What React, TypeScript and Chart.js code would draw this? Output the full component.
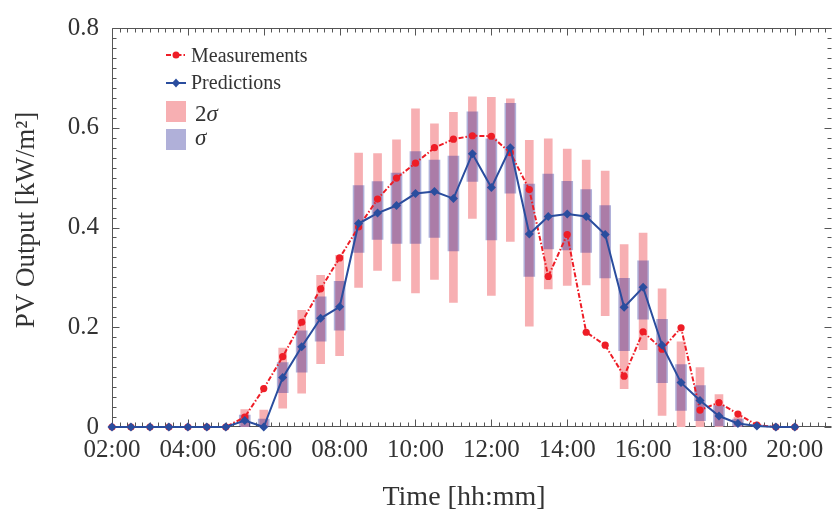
import { useEffect, useRef } from 'react';
import { Chart, registerables } from 'chart.js';

Chart.register(...registerables);

const times = [2, 2.5, 3, 3.5, 4, 4.5, 5, 5.5, 6, 6.5, 7, 7.5, 8, 8.5, 9, 9.5, 10, 10.5, 11, 11.5, 12, 12.5, 13, 13.5, 14, 14.5, 15, 15.5, 16, 16.5, 17, 17.5, 18, 18.5, 19, 19.5, 20];

const measurements = [0, 0, 0, 0, 0, 0, 0, 0.020, 0.077, 0.141, 0.210, 0.277, 0.339, 0.401, 0.457, 0.499, 0.529, 0.560, 0.577, 0.584, 0.583, 0.550, 0.476, 0.302, 0.386, 0.190, 0.164, 0.102, 0.191, 0.156, 0.199, 0.034, 0.049, 0.026, 0.004, 0, 0];

const predictions = [0, 0, 0, 0, 0, 0, 0, 0.013, 0, 0.099, 0.161, 0.218, 0.241, 0.408, 0.429, 0.444, 0.468, 0.472, 0.458, 0.548, 0.480, 0.560, 0.387, 0.422, 0.427, 0.422, 0.386, 0.240, 0.280, 0.164, 0.089, 0.053, 0.022, 0.007, 0.002, 0, 0];

const sigmaLow = [0, 0, 0, 0, 0, 0, 0, 0, 0, 0.069, 0.110, 0.172, 0.194, 0.350, 0.376, 0.368, 0.368, 0.380, 0.353, 0.4925, 0.375, 0.469, 0.302, 0.357, 0.355, 0.350, 0.299, 0.153, 0.216, 0.089, 0.033, 0.0125, 0.002, 0, 0, 0, 0];
const sigmaHigh = [0, 0, 0, 0, 0, 0, 0, 0.024, 0.016, 0.129, 0.193, 0.261, 0.292, 0.484, 0.492, 0.509, 0.552, 0.535, 0.543, 0.632, 0.578, 0.649, 0.487, 0.507, 0.4925, 0.476, 0.444, 0.298, 0.333, 0.216, 0.125, 0.083, 0.043, 0.016, 0.004, 0, 0];

const twoSigmaLow = [0, 0, 0, 0, 0, 0, 0, 0, 0, 0.038, 0.068, 0.127, 0.143, 0.280, 0.314, 0.293, 0.269, 0.296, 0.250, 0.418, 0.264, 0.372, 0.202, 0.277, 0.284, 0.285, 0.223, 0.077, 0.155, 0.023, 0, 0, 0, 0, 0, 0, 0];
const twoSigmaHigh = [0, 0, 0, 0, 0, 0, 0, 0.035, 0.034, 0.158, 0.234, 0.304, 0.344, 0.549, 0.548, 0.576, 0.638, 0.608, 0.631, 0.662, 0.661, 0.658, 0.575, 0.578, 0.557, 0.535, 0.513, 0.366, 0.389, 0.277, 0.171, 0.119, 0.065, 0.020, 0.006, 0, 0];

const xTickValues = [2, 4, 6, 8, 10, 12, 14, 16, 18, 20];
const xTickLabels = ['02:00', '04:00', '06:00', '08:00', '10:00', '12:00', '14:00', '16:00', '18:00', '20:00'];
const yTickLabels = ['0', '0.2', '0.4', '0.6', '0.8'];

const FONT = "'Liberation Serif', 'Times New Roman', serif";
const RED = '#ee1d26';
const BLUE = '#2a4d9e';
const PINK = '#f7afb2';
const LAV = 'rgba(30, 30, 145, 0.35)';
const AXIS = '#555555';
const TEXT = '#333333';

const X_MIN = 2;
const X_MAX = 20.94;

const decorPlugin = {
  id: 'decor',
  beforeDatasetsDraw(chart: any) {
    const { ctx, chartArea: a, scales } = chart;
    const x = scales.x;
    const y = scales.y;
    ctx.save();
    ctx.strokeStyle = AXIS;
    ctx.lineWidth = 1;
    const L = Math.round(a.left) + 0.5;
    const R = Math.round(a.right) - 0.5;
    const T = Math.round(a.top) + 0.5;
    const B = Math.round(a.bottom) - 0.5;
    ctx.beginPath();
    ctx.moveTo(L, T);
    ctx.lineTo(R + 1, T);
    ctx.moveTo(L, T);
    ctx.lineTo(L, B);
    ctx.lineTo(R + 1, B);
    ctx.stroke();
    ctx.beginPath();
    for (let i = 0; ; i++) {
      const v = X_MIN + i * 0.2;
      if (v > X_MAX + 1e-6) break;
      const len = i % 10 === 0 ? 7 : 4;
      const px = Math.round(x.getPixelForValue(v)) + 0.5;
      ctx.moveTo(px, B);
      ctx.lineTo(px, B - len);
      ctx.moveTo(px, T);
      ctx.lineTo(px, T + len);
    }
    for (let i = 0; i <= 40; i++) {
      const v = i * 0.02;
      const len = i % 10 === 0 ? 7 : 4;
      const py = Math.round(y.getPixelForValue(v)) + 0.5;
      ctx.moveTo(L, py);
      ctx.lineTo(L + len, py);
      ctx.moveTo(R + 1, py);
      ctx.lineTo(R + 1 - len, py);
    }
    ctx.stroke();
    ctx.restore();
  },
  afterDraw(chart: any) {
    const { ctx } = chart;
    ctx.save();
    ctx.fillStyle = TEXT;
    ctx.font = `28px ${FONT}`;
    ctx.textAlign = 'center';
    ctx.textBaseline = 'alphabetic';
    ctx.fillText('Time [hh:mm]', 464, 505);
    ctx.save();
    ctx.translate(33.5, 220);
    ctx.rotate(-Math.PI / 2);
    ctx.font = `27px ${FONT}`;
    ctx.fillText('PV Output [kW/m²]', 0, 0);
    ctx.restore();

    const lx0 = 166;
    const lx1 = 186;
    const mx = 176;
    ctx.strokeStyle = RED;
    ctx.lineWidth = 2;
    ctx.setLineDash([5, 2, 1.5, 2]);
    ctx.beginPath();
    ctx.moveTo(lx0, 55);
    ctx.lineTo(lx1, 55);
    ctx.stroke();
    ctx.setLineDash([]);
    ctx.fillStyle = RED;
    ctx.beginPath();
    ctx.arc(mx, 55, 3.5, 0, Math.PI * 2);
    ctx.fill();
    ctx.strokeStyle = BLUE;
    ctx.beginPath();
    ctx.moveTo(lx0, 83);
    ctx.lineTo(lx1, 83);
    ctx.stroke();
    ctx.fillStyle = BLUE;
    ctx.beginPath();
    ctx.moveTo(mx, 83 - 4.5);
    ctx.lineTo(mx + 4, 83);
    ctx.lineTo(mx, 83 + 4.5);
    ctx.lineTo(mx - 4, 83);
    ctx.closePath();
    ctx.fill();
    ctx.fillStyle = PINK;
    ctx.fillRect(lx0, 101, 20, 21);
    ctx.fillStyle = LAV;
    ctx.fillRect(lx0, 129, 20, 21);

    ctx.fillStyle = TEXT;
    ctx.textAlign = 'left';
    ctx.textBaseline = 'alphabetic';
    ctx.font = `20px ${FONT}`;
    ctx.fillText('Measurements', 191, 62);
    ctx.fillText('Predictions', 191, 88.5);
    ctx.font = `23px ${FONT}`;
    ctx.fillText('2', 195, 120.5);
    const w2 = ctx.measureText('2').width;
    ctx.font = `italic 23px ${FONT}`;
    ctx.fillText('σ', 195 + w2, 120.5);
    ctx.fillText('σ', 195, 145);
    ctx.restore();
  },
};

export default function App() {
  const ref = useRef<HTMLCanvasElement | null>(null);

  useEffect(() => {
    if (!ref.current) return;
    document.body.style.margin = '0';
    document.body.style.overflow = 'hidden';
    const pts = (arr: number[]) => times.map((t, i) => ({ x: t, y: arr[i] }));
    const band = (lo: number[], hi: number[]) => times.map((t, i) => ({ x: t, y: [lo[i], hi[i]] }));

    const chart = new Chart(ref.current, {
      type: 'line',
      data: {
        datasets: [
          {
            type: 'line',
            label: 'Predictions',
            data: pts(predictions),
            borderColor: BLUE,
            backgroundColor: BLUE,
            borderWidth: 2,
            pointStyle: 'rectRot',
            pointRadius: 4.5,
            pointBorderWidth: 0,
            pointBackgroundColor: BLUE,
            fill: false,
            tension: 0,
            clip: false,
            order: 0,
          },
          {
            type: 'line',
            label: 'Measurements',
            data: pts(measurements),
            borderColor: RED,
            backgroundColor: RED,
            borderWidth: 2,
            borderDash: [5, 2, 1.5, 2],
            pointStyle: 'circle',
            pointRadius: 3.6,
            pointBorderWidth: 0,
            pointBackgroundColor: RED,
            fill: false,
            tension: 0,
            clip: false,
            order: 1,
          },
          {
            type: 'bar',
            label: 'σ',
            data: band(sigmaLow, sigmaHigh) as any,
            backgroundColor: LAV,
            borderWidth: 0,
            barThickness: 11,
            grouped: false,
            order: 2,
          },
          {
            type: 'bar',
            label: '2σ',
            data: band(twoSigmaLow, twoSigmaHigh) as any,
            backgroundColor: PINK,
            borderWidth: 0,
            barThickness: 8,
            grouped: false,
            order: 3,
          },
        ] as any,
      },
      options: {
        animation: false,
        responsive: false,
        devicePixelRatio: 1,
        layout: { padding: { left: 0, right: 0, top: 22, bottom: 0 } },
        plugins: {
          legend: { display: false },
          tooltip: { enabled: false },
        },
        scales: {
          x: {
            type: 'linear',
            min: X_MIN,
            max: X_MAX,
            offset: false,
            grid: { display: false, drawTicks: false },
            border: { display: false },
            ticks: {
              maxRotation: 0,
              autoSkip: false,
              padding: 8,
              color: TEXT,
              font: { family: FONT, size: 25 },
              callback: (_v: any, i: number) => xTickLabels[i] ?? '',
            },
            afterBuildTicks: (s: any) => {
              s.ticks = xTickValues.map((v) => ({ value: v }));
            },
            afterFit: (s: any) => {
              s.height = 84;
            },
          },
          y: {
            type: 'linear',
            min: 0,
            max: 0.8,
            grid: { display: false, drawTicks: false },
            border: { display: false },
            ticks: {
              stepSize: 0.2,
              padding: 13,
              color: TEXT,
              font: { family: FONT, size: 25 },
              callback: (_v: any, i: number) => yTickLabels[i] ?? '',
            },
            afterFit: (s: any) => {
              s.width = 112;
            },
          },
        },
      },
      plugins: [decorPlugin],
    });
    return () => chart.destroy();
  }, []);

  return (
    <canvas
      ref={ref}
      width={835}
      height={511}
      style={{ position: 'fixed', left: 0, top: 0, width: 835, height: 511 }}
    />
  );
}
